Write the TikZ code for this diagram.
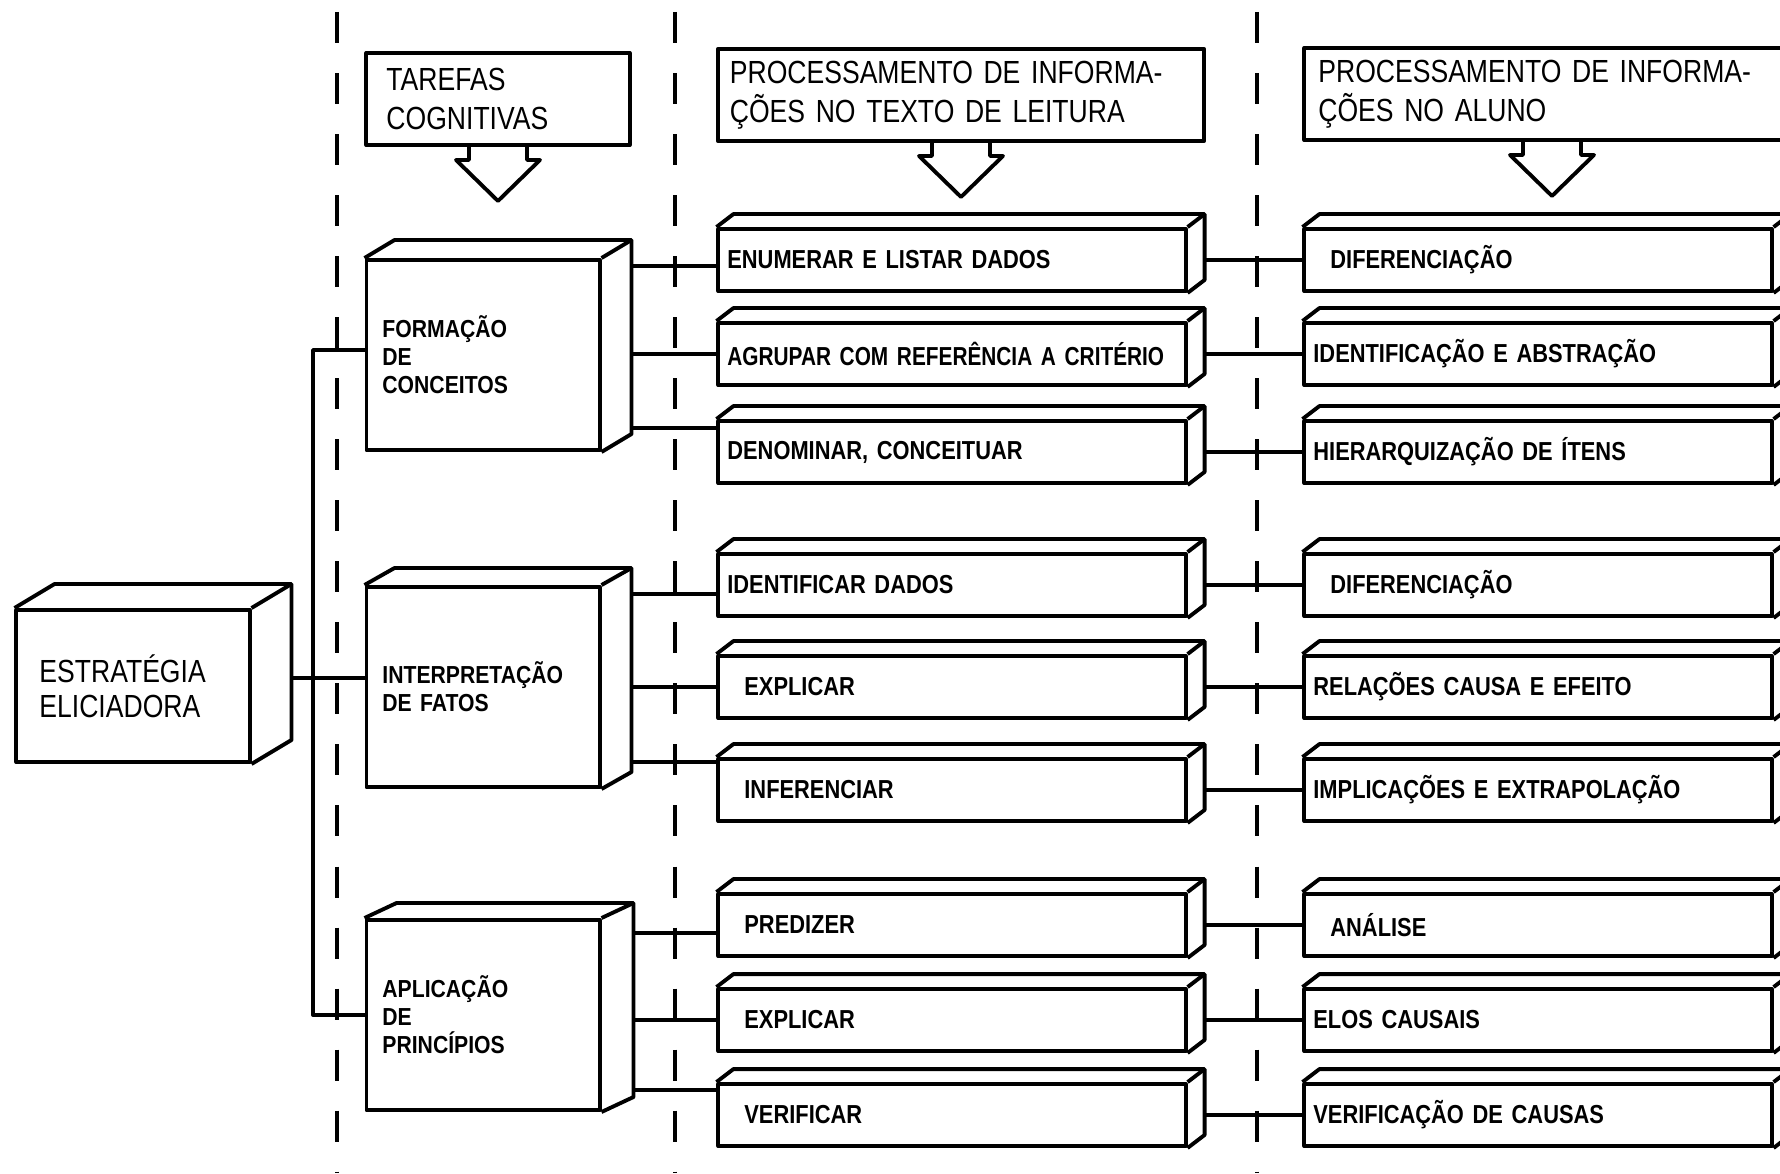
\documentclass[tikz,border=0pt]{standalone}
\usepackage{fontspec}
\newfontfamily\headfont[FakeStretch=0.83]{Liberation Sans}
\newfontfamily\boxfont[FakeStretch=0.84]{Liberation Sans}
\newfontfamily\taskfont[FakeStretch=0.86]{Liberation Sans}

\tikzset{
  edge/.style={line width=1.1pt, line join=round},
  divider/.style={line width=1.1pt, dash pattern=on 0.31cm off 0.30cm},
  header/.style={draw, edge, align=left, minimum height=0.92cm,
    font=\headfont\fontsize{9.1}{11}\selectfont},
  task/.style={draw, edge, minimum width=2.33cm, text width=2.01cm, inner xsep=0.16cm,
    align=left, font=\taskfont\bfseries\fontsize{7}{8}\selectfont},
  item/.style={draw, edge, minimum height=0.62cm, text width=4.49cm, inner xsep=0.09cm,
    align=left, font=\boxfont\bfseries\fontsize{7.4}{8.8}\selectfont},
  indent/.style={execute at begin node={\hspace*{0.17cm}}}
}

\begin{document}
\begin{tikzpicture}[x=0.01cm, y=-0.01cm]
    \useasboundingbox (0,0) rectangle (1780,1173);
    \fill[white] (0,0) rectangle (1780,1173);
    \clip (0,0) rectangle (1780,1173);

    % Dividers
    \foreach \x in {337,675,1257}
        \draw[divider] (\x,12) -- (\x,1173);

    % Headers
    \node[header, text width=2.23cm, inner xsep=0.20cm] (tar) at (498,99) {TAREFAS\\COGNITIVAS};
    \node[header, text width=4.62cm, inner xsep=0.12cm] (ptx) at (961,95) {PROCESSAMENTO DE INFORMA-\\ÇÕES NO TEXTO DE LEITURA};
    \node[header, text width=4.67cm, inner xsep=0.14cm] (pal) at (1552,94) {PROCESSAMENTO DE INFORMA-\\ÇÕES NO ALUNO};

    % Hollow arrows under the headers
    \foreach \h in {tar,ptx,pal}
        \draw[edge] ([xshift=-0.29cm]\h.south) -- ++(0,13) -- ++(-13,0) -- ++(42,41)
            -- ++(42,-41) -- ++(-13,0) -- ++(0,-13);

    % Strategy
    \node[draw, edge, minimum width=2.33cm, minimum height=1.52cm, text width=1.87cm,
        inner xsep=0.23cm, align=left, font=\headfont\fontsize{9.1}{10}\selectfont]
        (estr) at (133,686) {ESTRATÉGIA\\ELICIADORA};

    % Cognitive tasks
    \node[task, minimum height=1.90cm] (form) at (483,355) {FORMAÇÃO\\DE\\CONCEITOS};
    \node[task, minimum height=2.00cm] (interp) at (483,687) {INTERPRETAÇÃO\\DE FATOS};
    \node[task, minimum height=1.90cm] (aplic) at (483,1015) {APLICAÇÃO\\DE\\PRINCÍPIOS};

    % Processing in the text
    \node[item] (enum) at (952,260) {ENUMERAR E LISTAR DADOS};
    \node[item] (agru) at (952,354) {\mbox{\addfontfeature{FakeStretch=0.80}AGRUPAR COM REFERÊNCIA A CRITÉRIO}};
    \node[item] (deno) at (952,452) {DENOMINAR, CONCEITUAR};
    \node[item] (iden) at (952,585) {IDENTIFICAR DADOS};
    \node[item, indent] (expl) at (952,687) {EXPLICAR};
    \node[item, indent] (infe) at (952,790) {INFERENCIAR};
    \node[item, indent] (pred) at (952,925) {PREDIZER};
    \node[item, indent] (expb) at (952,1020) {EXPLICAR};
    \node[item, indent] (veri) at (952,1115) {VERIFICAR};

    % Processing in the pupil
    \node[item, indent] (dife) at (1538,260) {DIFERENCIAÇÃO};
    \node[item] (abst) at (1538,354) {IDENTIFICAÇÃO E ABSTRAÇÃO};
    \node[item] (hier) at (1538,452) {HIERARQUIZAÇÃO DE ÍTENS};
    \node[item, indent] (difb) at (1538,585) {DIFERENCIAÇÃO};
    \node[item] (caus) at (1538,687) {RELAÇÕES CAUSA E EFEITO};
    \node[item] (impl) at (1538,790) {IMPLICAÇÕES E EXTRAPOLAÇÃO};
    \node[item, indent] (anal) at (1538,925) {ANÁLISE};
    \node[item] (elos) at (1538,1020) {ELOS CAUSAIS};
    \node[item] (vcau) at (1538,1115) {VERIFICAÇÃO DE CAUSAS};

    % Depth of the boxes
    \foreach \n/\dx/\dy in {estr/40/-24, form/30/-18, interp/30/-17, aplic/32/-15,
        enum/17/-13, agru/17/-13, deno/17/-13, iden/17/-13, expl/17/-13, infe/17/-13,
        pred/17/-13, expb/17/-13, veri/17/-13, dife/17/-13, abst/17/-13, hier/17/-13,
        difb/17/-13, caus/17/-13, impl/17/-13, anal/17/-13, elos/17/-13, vcau/17/-13} {
        \draw[edge] (\n.north west) -- ++(\dx,\dy) -| ([shift={(\dx,\dy)}]\n.south east) -- (\n.south east);
        \draw[edge] (\n.north east) -- ++(\dx,\dy);
        \coordinate (\n-r) at ([shift={(\dx,0)}]\n.east);
    }

    % Strategy to tasks
    \coordinate (brk) at (313,687);
    \draw[edge] ([yshift=0.09cm]estr-r |- interp.west) -- ([yshift=0.09cm]interp.west);
    \draw[edge] ([yshift=0.05cm]form.west) -| (brk) |- (aplic.west);

    % Tasks to the text
    \draw[edge] ([yshift=-0.06cm]enum.west -| form-r) -- ([yshift=-0.06cm]enum.west);
    \draw[edge] (form-r |- agru.west) -- (agru.west);
    \draw[edge] ([yshift=0.24cm]deno.west -| form-r) -- ([yshift=0.24cm]deno.west);
    \draw[edge] ([yshift=-0.09cm]iden.west -| interp-r) -- ([yshift=-0.09cm]iden.west);
    \draw[edge] (interp-r |- expl.west) -- (expl.west);
    \draw[edge] ([yshift=0.28cm]infe.west -| interp-r) -- ([yshift=0.28cm]infe.west);
    \draw[edge] ([yshift=-0.08cm]pred.west -| aplic-r) -- ([yshift=-0.08cm]pred.west);
    \draw[edge] (aplic-r |- expb.west) -- (expb.west);
    \draw[edge] ([yshift=0.25cm]veri.west -| aplic-r) -- ([yshift=0.25cm]veri.west);

    % Text to the pupil
    \foreach \a/\b in {enum/dife, agru/abst, deno/hier, iden/difb, expl/caus,
        infe/impl, pred/anal, expb/elos, veri/vcau}
        \draw[edge] (\a-r) -- (\b.west);
\end{tikzpicture}
\end{document}
